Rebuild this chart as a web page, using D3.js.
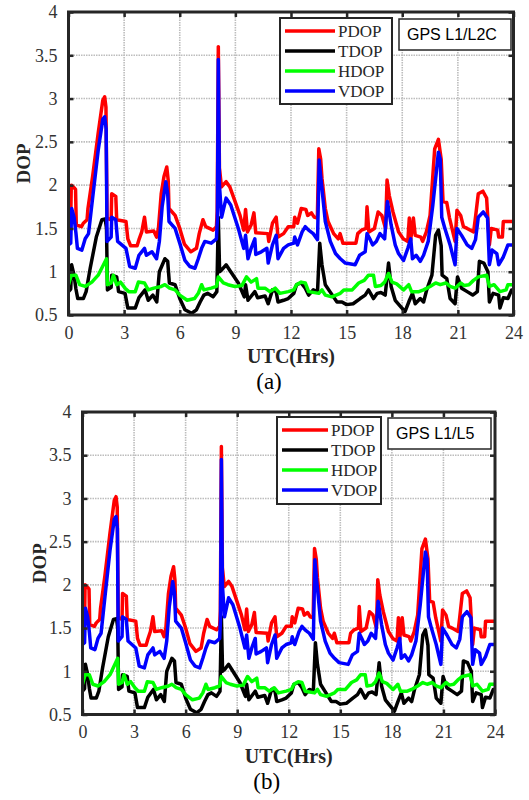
<!DOCTYPE html>
<html>
<head>
<meta charset="utf-8">
<script src="https://cdn.jsdelivr.net/npm/d3@7"></script>
<style>
  body { margin: 0; background: #fff; }
  svg { display: block; }
</style>
</head>
<body>
<svg id="chart" width="529" height="800"></svg>
<script>
// hours and DOP values, [hour, value]
const pdop = [[0,1.58],[0.12,1.6],[0.15,2.0],[0.3,1.97],[0.38,1.95],[0.42,1.54],[0.7,1.52],[0.8,1.56],[1.0,1.6],[1.05,1.73],[1.3,2.1],[1.6,2.6],[1.85,2.98],[1.95,3.02],[2.02,2.9],[2.08,1.62],[2.3,1.6],[2.33,1.9],[2.55,1.87],[2.6,1.6],[3.1,1.58],[3.2,1.38],[3.35,1.3],[3.7,1.3],[3.8,1.37],[3.95,1.46],[4.1,1.63],[4.2,1.46],[4.6,1.47],[4.75,1.4],[4.85,1.5],[5.0,1.9],[5.15,2.1],[5.3,2.21],[5.38,2.05],[5.42,1.73],[5.75,1.65],[6.0,1.5],[6.25,1.32],[6.6,1.23],[6.9,1.27],[7.05,1.44],[7.25,1.6],[7.4,1.52],[7.8,1.48],[7.98,1.52],[8.02,1.7],[8.08,3.6],[8.14,2.2],[8.25,1.98],[8.5,2.04],[8.7,1.98],[9.0,1.8],[9.25,1.65],[9.45,1.48],[9.55,1.72],[9.65,1.46],[9.85,1.54],[10.0,1.68],[10.1,1.45],[10.75,1.44],[10.8,1.35],[11.0,1.56],[11.2,1.63],[11.3,1.4],[11.6,1.44],[11.85,1.52],[12.15,1.52],[12.2,1.63],[12.35,1.56],[12.55,1.73],[12.8,1.72],[12.9,1.65],[13.1,1.68],[13.25,1.63],[13.42,1.62],[13.5,2.42],[13.6,2.3],[13.67,2.08],[13.85,1.73],[14.0,1.58],[14.3,1.44],[14.55,1.38],[14.65,1.44],[14.8,1.33],[15.5,1.33],[15.6,1.44],[15.8,1.48],[16.05,1.5],[16.1,1.75],[16.2,1.46],[16.5,1.5],[16.7,1.69],[16.9,1.65],[17.1,1.5],[17.18,2.06],[17.3,1.88],[17.5,1.69],[17.8,1.46],[18.05,1.38],[18.3,1.35],[18.38,1.62],[18.45,1.36],[18.6,1.62],[18.7,1.42],[19.0,1.4],[19.1,1.35],[19.3,1.46],[19.5,1.65],[19.75,2.42],[19.95,2.53],[20.1,2.3],[20.2,1.81],[20.4,1.8],[20.55,1.62],[20.85,1.35],[20.95,1.71],[21.15,1.65],[21.3,1.52],[21.5,1.5],[21.85,1.46],[21.95,1.63],[22.1,1.9],[22.35,1.93],[22.55,1.85],[22.7,1.31],[22.8,1.5],[23.15,1.48],[23.2,1.4],[23.4,1.4],[23.45,1.58],[24,1.58]];

const tdop = [[0,0.77],[0.12,0.8],[0.17,1.08],[0.3,0.96],[0.4,0.8],[0.5,0.69],[0.8,0.69],[0.95,0.77],[1.17,1.04],[1.5,1.4],[1.8,1.6],[1.98,1.61],[2.05,1.5],[2.1,0.79],[2.3,0.82],[2.33,0.96],[2.6,0.94],[2.7,0.77],[3.05,0.75],[3.2,0.58],[3.6,0.58],[3.8,0.7],[4.13,0.79],[4.3,0.67],[4.55,0.73],[4.76,0.65],[4.9,1.0],[5.2,1.15],[5.35,1.12],[5.44,0.87],[5.75,0.85],[6.0,0.69],[6.28,0.56],[6.64,0.52],[6.9,0.56],[7.1,0.65],[7.3,0.73],[7.5,0.75],[7.8,0.71],[8.0,0.77],[8.08,1.63],[8.15,1.0],[8.26,1.02],[8.5,1.08],[8.75,1.0],[9.16,0.87],[9.48,0.71],[9.55,0.85],[9.68,0.67],[10.05,0.77],[10.2,0.7],[10.6,0.72],[10.77,0.63],[11.0,0.79],[11.2,0.77],[11.3,0.65],[11.6,0.67],[11.85,0.69],[12.15,0.75],[12.3,0.85],[12.55,0.87],[12.77,0.81],[12.95,0.73],[13.2,0.79],[13.43,0.77],[13.55,1.33],[13.67,1.08],[13.85,0.85],[14.1,0.77],[14.48,0.65],[14.75,0.65],[15.0,0.62],[15.35,0.63],[15.73,0.69],[16.0,0.73],[16.18,0.79],[16.45,0.69],[16.65,0.75],[16.85,0.76],[17.08,0.73],[17.26,1.1],[17.4,0.83],[17.62,0.67],[17.9,0.6],[18.15,0.54],[18.35,0.65],[18.55,0.75],[18.7,0.63],[18.97,0.69],[19.15,0.65],[19.32,0.79],[19.6,0.96],[19.8,1.42],[19.95,1.48],[20.1,1.3],[20.15,0.96],[20.4,0.92],[20.58,0.69],[20.85,0.63],[20.98,0.94],[21.2,0.81],[21.5,0.77],[21.8,0.73],[22.05,0.77],[22.16,1.12],[22.4,1.1],[22.62,1.0],[22.7,0.65],[22.9,0.75],[23.2,0.73],[23.27,0.58],[23.45,0.7],[23.7,0.69],[23.9,0.79],[24,0.79]];

const hdop = [[0,0.85],[0.15,0.96],[0.4,0.96],[0.6,0.85],[0.9,0.83],[1.26,0.88],[1.6,0.96],[2.05,1.15],[2.1,0.85],[2.3,0.87],[2.42,0.96],[2.6,0.85],[2.8,0.88],[3.05,0.81],[3.25,0.77],[3.6,0.77],[3.77,0.88],[4.1,0.87],[4.3,0.79],[4.6,0.81],[5.0,0.83],[5.2,0.85],[5.45,0.81],[5.75,0.79],[6.0,0.73],[6.4,0.67],[6.8,0.69],[7.0,0.75],[7.18,0.85],[7.3,0.79],[7.7,0.81],[7.98,0.83],[8.08,0.94],[8.35,0.87],[8.6,0.85],[8.98,0.83],[9.35,0.84],[9.6,0.94],[9.85,0.88],[10.14,0.92],[10.22,0.81],[10.6,0.81],[10.86,0.77],[11.15,0.81],[11.4,0.75],[11.85,0.77],[12.15,0.79],[12.3,0.85],[12.55,0.88],[12.77,0.87],[12.95,0.77],[13.5,0.75],[13.67,0.79],[13.85,0.73],[14.2,0.71],[14.66,0.75],[14.85,0.79],[15.3,0.79],[15.65,0.87],[15.95,0.9],[16.18,0.96],[16.45,0.96],[16.55,0.83],[16.85,0.84],[17.05,0.88],[17.26,0.98],[17.45,0.88],[17.7,0.86],[18.07,0.79],[18.35,0.85],[18.5,0.77],[18.9,0.77],[19.15,0.79],[19.5,0.83],[19.8,0.87],[20.05,0.85],[20.35,0.87],[20.58,0.83],[20.85,0.81],[21.15,0.87],[21.35,0.84],[21.6,0.85],[21.84,0.9],[22.1,0.94],[22.55,0.96],[22.7,0.83],[22.95,0.85],[23.27,0.77],[23.6,0.79],[23.7,0.85],[24,0.85]];

const vdop = [[0,1.31],[0.12,1.33],[0.17,1.73],[0.3,1.63],[0.4,1.45],[0.48,1.27],[0.72,1.25],[0.9,1.38],[1.08,1.44],[1.3,1.85],[1.6,2.4],[1.85,2.76],[1.95,2.79],[2.03,2.65],[2.08,1.35],[2.3,1.4],[2.33,1.63],[2.55,1.6],[2.65,1.35],[3.1,1.27],[3.3,1.06],[3.6,1.04],[3.8,1.19],[4.1,1.27],[4.2,1.19],[4.5,1.23],[4.75,1.15],[4.9,1.35],[5.05,1.75],[5.25,2.04],[5.35,1.9],[5.42,1.58],[5.75,1.5],[6.0,1.33],[6.28,1.13],[6.55,1.06],[6.82,1.04],[7.0,1.15],[7.18,1.27],[7.35,1.35],[7.7,1.33],[7.98,1.38],[8.03,1.6],[8.08,3.45],[8.14,2.0],[8.26,1.63],[8.5,1.85],[8.75,1.77],[9.16,1.5],[9.45,1.27],[9.55,1.42],[9.68,1.15],[9.85,1.27],[10.05,1.38],[10.1,1.2],[10.4,1.23],[10.7,1.27],[10.77,1.1],[11.0,1.31],[11.2,1.42],[11.3,1.15],[11.6,1.27],[11.85,1.31],[12.15,1.33],[12.2,1.4],[12.35,1.31],[12.6,1.46],[12.77,1.52],[12.95,1.48],[13.2,1.44],[13.43,1.37],[13.52,2.29],[13.6,2.1],[13.67,1.96],[13.85,1.58],[14.12,1.35],[14.4,1.21],[14.66,1.15],[14.93,1.1],[15.46,1.08],[15.7,1.19],[16.0,1.23],[16.1,1.44],[16.25,1.38],[16.4,1.31],[16.6,1.35],[16.8,1.44],[17.05,1.38],[17.2,1.81],[17.4,1.54],[17.62,1.31],[17.8,1.21],[18.07,1.13],[18.3,1.27],[18.46,1.38],[18.55,1.15],[18.75,1.19],[18.97,1.12],[19.15,1.19],[19.4,1.35],[19.65,1.77],[19.95,2.38],[20.05,2.3],[20.13,1.63],[20.3,1.5],[20.58,1.31],[20.85,1.08],[20.95,1.5],[21.2,1.42],[21.5,1.31],[21.75,1.27],[21.95,1.37],[22.1,1.63],[22.37,1.69],[22.6,1.62],[22.7,1.08],[22.85,1.25],[23.1,1.21],[23.2,1.08],[23.45,1.17],[23.7,1.31],[24,1.31]];

const seriesNames = ['PDOP', 'TDOP', 'HDOP', 'VDOP'];
const seriesColors = ['#ff0000', '#000000', '#00ff00', '#0000ff'];
const xTicks = [0, 3, 6, 9, 12, 15, 18, 21, 24];
const yTicks = [0.5, 1, 1.5, 2, 2.5, 3, 3.5, 4];
const panelLabels = ['(a)', '(b)'];
const signalLabels = ['GPS L1/L2C', 'GPS L1/L5'];

const AXIS_COLOR = '#262626';
const SERIF = '"Liberation Serif", "Times New Roman", serif';
const SANS = '"Liberation Sans", Arial, sans-serif';

const svg = d3.select('#chart');

const panels = [
  { left: 68.5, right: 513.5, top: 12, bottom: 315, yLabelX: 23,
    legend: { x: 280, y: 18, w: 112, h: 86, lineEnd: 55 },
    signal: { x: 399, y: 19, w: 112, h: 31 } },
  { left: 82.5, right: 495, top: 412, bottom: 714.5, yLabelX: 39,
    legend: { x: 277, y: 417, w: 104, h: 87, lineEnd: 51 },
    signal: { x: 388, y: 418, w: 103, h: 31 } }
];

panels.forEach((p, i) => drawPanel(p, i));

function drawPanel(p, idx) {
  const allSeries = [pdop, tdop, hdop, vdop];
  const x = d3.scaleLinear().domain([0, 24]).range([p.left, p.right]);
  const y = d3.scaleLinear().domain([0.5, 4]).range([p.bottom, p.top]);
  const g = svg.append('g');

  // grid
  g.append('g').selectAll('line').data(xTicks.slice(1, -1)).join('line')
    .attr('x1', d => x(d)).attr('x2', d => x(d))
    .attr('y1', p.top).attr('y2', p.bottom)
    .attr('stroke', '#bdbdbd').attr('stroke-width', 1.6)
    .attr('stroke-dasharray', '1.5,1');
  g.append('g').selectAll('line').data(yTicks.slice(1, -1)).join('line')
    .attr('y1', d => y(d)).attr('y2', d => y(d))
    .attr('x1', p.left).attr('x2', p.right)
    .attr('stroke', '#bdbdbd').attr('stroke-width', 1.6)
    .attr('stroke-dasharray', '1.5,1');

  // data lines
  const line = d3.line().x(d => x(d[0])).y(d => y(d[1]));
  const clipId = 'clip' + idx;
  svg.append('clipPath').attr('id', clipId).append('rect')
    .attr('x', p.left).attr('y', p.top - 2)
    .attr('width', p.right - p.left).attr('height', p.bottom - p.top + 2);
  g.append('g').attr('clip-path', `url(#${clipId})`)
    .selectAll('path').data(allSeries).join('path')
    .attr('d', line)
    .attr('fill', 'none')
    .attr('stroke', (d, k) => seriesColors[k])
    .attr('stroke-width', 3.5)
    .attr('stroke-linejoin', 'round');

  // axes: inward ticks on all sides
  const tickLen = 5;
  const xBottom = d3.axisBottom(x).tickValues(xTicks).tickSizeInner(-tickLen).tickSizeOuter(0).tickPadding(11);
  const xTop = d3.axisTop(x).tickValues(xTicks).tickSizeInner(-tickLen).tickSizeOuter(0).tickFormat('');
  const yLeft = d3.axisLeft(y).tickValues(yTicks).tickSizeInner(-tickLen).tickSizeOuter(0).tickPadding(11)
    .tickFormat(d3.format('~g'));
  const yRight = d3.axisRight(y).tickValues(yTicks).tickSizeInner(-tickLen).tickSizeOuter(0).tickFormat('');

  const axes = [
    g.append('g').attr('transform', `translate(0,${p.bottom})`).call(xBottom),
    g.append('g').attr('transform', `translate(0,${p.top})`).call(xTop),
    g.append('g').attr('transform', `translate(${p.left},0)`).call(yLeft),
    g.append('g').attr('transform', `translate(${p.right},0)`).call(yRight)
  ];
  axes.forEach(a => {
    a.select('.domain').remove();
    a.selectAll('.tick line').attr('stroke', AXIS_COLOR).attr('stroke-width', 2.5);
    a.selectAll('.tick text').attr('fill', '#333')
      .style('font-family', SERIF).style('font-size', '18px');
  });

  g.append('rect')
    .attr('x', p.left).attr('y', p.top)
    .attr('width', p.right - p.left).attr('height', p.bottom - p.top)
    .attr('fill', 'none').attr('stroke', AXIS_COLOR).attr('stroke-width', 3);

  // axis titles
  g.append('text')
    .attr('transform', `translate(${p.yLabelX},${(p.top + p.bottom) / 2}) rotate(-90)`)
    .attr('text-anchor', 'middle').attr('dy', '0.35em')
    .style('font-family', SERIF).style('font-size', '19px').style('font-weight', 'bold')
    .attr('fill', AXIS_COLOR).text('DOP');
  g.append('text')
    .attr('x', (p.left + p.right) / 2).attr('y', p.bottom + 48)
    .attr('text-anchor', 'middle')
    .style('font-family', SERIF).style('font-size', '20px').style('font-weight', 'bold')
    .attr('fill', AXIS_COLOR).text('UTC(Hrs)');
  g.append('text')
    .attr('x', (p.left + p.right) / 2 - 22).attr('y', p.bottom + 74)
    .attr('text-anchor', 'middle')
    .style('font-family', SERIF).style('font-size', '23px')
    .attr('fill', '#000').text(panelLabels[idx]);

  // legend
  const lg = g.append('g').attr('transform', `translate(${p.legend.x},${p.legend.y})`);
  lg.append('rect').attr('width', p.legend.w).attr('height', p.legend.h)
    .attr('fill', '#fff').attr('stroke', AXIS_COLOR).attr('stroke-width', 2);
  const rows = lg.selectAll('g.row').data(seriesNames).join('g').attr('class', 'row')
    .attr('transform', (d, k) => `translate(0,${13 + k * 20})`);
  rows.append('line').attr('x1', 5).attr('x2', p.legend.lineEnd)
    .attr('stroke', (d, k) => seriesColors[k]).attr('stroke-width', 3.5);
  rows.append('text').attr('x', p.legend.lineEnd + 3).attr('dy', '0.35em')
    .style('font-family', SERIF).style('font-size', '17px')
    .attr('fill', AXIS_COLOR).text(d => d);

  // signal tag
  const sg = g.append('g').attr('transform', `translate(${p.signal.x},${p.signal.y})`);
  sg.append('rect').attr('width', p.signal.w).attr('height', p.signal.h)
    .attr('fill', '#fff').attr('stroke', AXIS_COLOR).attr('stroke-width', 1.5);
  sg.append('text').attr('x', 8).attr('y', p.signal.h / 2).attr('dy', '0.36em')
    .style('font-family', SANS).style('font-size', '16px')
    .attr('fill', '#000').text(signalLabels[idx]);
}
</script>
</body>
</html>
